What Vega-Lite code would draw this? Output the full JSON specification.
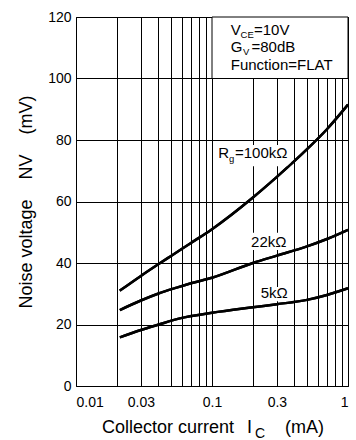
{
  "$schema": "https://vega.github.io/schema/vega-lite/v6.json",
  "width": 272,
  "height": 369,
  "autosize": "none",
  "padding": {"left": 76, "top": 17, "right": 8, "bottom": 54},
  "background": "white",
  "config": {
    "view": {"stroke": "#000", "strokeWidth": 1},
    "font": "Arial, Liberation Sans, sans-serif",
    "axis": {
      "domain": false,
      "ticks": false,
      "grid": true,
      "gridColor": "#000",
      "gridOpacity": 1,
      "gridWidth": 1,
      "labelFont": "Arial, Liberation Sans, sans-serif",
      "labelFontSize": 14,
      "labelColor": "#000",
      "labelOverlap": false,
      "titleFont": "Arial, Liberation Sans, sans-serif",
      "titleFontSize": 18,
      "titleFontWeight": "normal",
      "titleColor": "#000"
    }
  },
  "datasets": {
    "curves": [
      {"r": "100k", "x": 0.021, "y": 31},
      {"r": "100k", "x": 0.03, "y": 35.8},
      {"r": "100k", "x": 0.04, "y": 39.5},
      {"r": "100k", "x": 0.05, "y": 42.3},
      {"r": "100k", "x": 0.07, "y": 46.5},
      {"r": "100k", "x": 0.1, "y": 51},
      {"r": "100k", "x": 0.2, "y": 61.3},
      {"r": "100k", "x": 0.3, "y": 68},
      {"r": "100k", "x": 0.5, "y": 77},
      {"r": "100k", "x": 0.7, "y": 83.5},
      {"r": "100k", "x": 1.0, "y": 91.5},
      {"r": "22k", "x": 0.021, "y": 24.7},
      {"r": "22k", "x": 0.03, "y": 27.8},
      {"r": "22k", "x": 0.04, "y": 30},
      {"r": "22k", "x": 0.055, "y": 32},
      {"r": "22k", "x": 0.07, "y": 33.4},
      {"r": "22k", "x": 0.1, "y": 35.2},
      {"r": "22k", "x": 0.2, "y": 40},
      {"r": "22k", "x": 0.3, "y": 42.4},
      {"r": "22k", "x": 0.5, "y": 45.4},
      {"r": "22k", "x": 0.7, "y": 47.8},
      {"r": "22k", "x": 1.0, "y": 50.8},
      {"r": "5k", "x": 0.021, "y": 15.8},
      {"r": "5k", "x": 0.03, "y": 18.2},
      {"r": "5k", "x": 0.04, "y": 19.9},
      {"r": "5k", "x": 0.058, "y": 22},
      {"r": "5k", "x": 0.1, "y": 23.8},
      {"r": "5k", "x": 0.2, "y": 25.6},
      {"r": "5k", "x": 0.3, "y": 26.6},
      {"r": "5k", "x": 0.5, "y": 28},
      {"r": "5k", "x": 0.7, "y": 29.6},
      {"r": "5k", "x": 1.0, "y": 31.8}
    ],
    "boxes": [
      {"x": 0.107, "x2": 0.381, "y": 78.4, "y2": 71.5},
      {"x": 0.187, "x2": 0.368, "y": 49.8, "y2": 44.2},
      {"x": 0.2143, "x2": 0.381, "y": 32.2, "y2": 27.6}
    ],
    "legendbox": [
      {"x": 0.1, "x2": 1, "y": 100, "y2": 120}
    ],
    "texts": [
      {"t": "V", "x": 0.1373, "y": 114.1},
      {"t": "=10V", "x": 0.2035, "y": 114.1},
      {"t": "G", "x": 0.1373, "y": 108.7},
      {"t": "=80dB", "x": 0.1952, "y": 108.7},
      {"t": "Function=FLAT", "x": 0.1373, "y": 102.8},
      {"t": "R", "x": 0.1113, "y": 74.05},
      {"t": "=100kΩ", "x": 0.1476, "y": 74.05},
      {"t": "22kΩ", "x": 0.1937, "y": 45.3},
      {"t": "5kΩ", "x": 0.228, "y": 28.6}
    ],
    "subs": [
      {"t": "CE", "x": 0.1621, "y": 113.1},
      {"t": "V", "x": 0.169, "y": 107.6},
      {"t": "g", "x": 0.1334, "y": 72.8}
    ],
    "xtitle": [
      {"t": "Collector current", "x": 0.01552, "y": -15.3},
      {"t": "I", "x": 0.1809, "y": -15.3},
      {"t": "(mA)", "x": 0.344, "y": -15.3}
    ],
    "xsub": [
      {"t": "C", "x": 0.2071, "y": -17.0}
    ]
  },
  "layer": [
    {
      "data": {"name": "curves"},
      "mark": {"type": "line", "color": "#000", "strokeWidth": 2.5, "interpolate": "monotone"},
      "encoding": {
        "x": {
          "field": "x", "type": "quantitative",
          "scale": {"type": "log", "domain": [0.01, 1], "nice": false},
          "axis": {
            "title": null,
            "values": [0.01, 0.02, 0.03, 0.04, 0.05, 0.06, 0.07, 0.08, 0.09, 0.1, 0.2, 0.3, 0.4, 0.5, 0.6, 0.7, 0.8, 0.9, 1],
            "labelExpr": "indexof([0.01, 0.03, 0.1, 0.3, 1], datum.value) >= 0 ? format(datum.value, '~g') : ''",
            "labelPadding": 9
          }
        },
        "y": {
          "field": "y", "type": "quantitative",
          "scale": {"domain": [0, 120], "nice": false},
          "axis": {
            "title": "Noise voltage\u00a0\u00a0\u00a0\u00a0NV\u00a0\u00a0\u00a0\u00a0(mV)",
            "values": [0, 10, 20, 30, 40, 50, 60, 70, 80, 90, 100, 110, 120],
            "labelExpr": "datum.value % 20 == 0 ? datum.label : ''",
            "labelPadding": 5,
            "titlePadding": 12
          }
        },
        "detail": {"field": "r"}
      }
    },
    {
      "data": {"name": "boxes"},
      "mark": {"type": "rect", "fill": "white", "stroke": null},
      "encoding": {
        "x": {"field": "x", "type": "quantitative"},
        "x2": {"field": "x2"},
        "y": {"field": "y", "type": "quantitative"},
        "y2": {"field": "y2"}
      }
    },
    {
      "data": {"name": "legendbox"},
      "mark": {"type": "rect", "fill": "white", "stroke": "#000", "strokeWidth": 1},
      "encoding": {
        "x": {"field": "x", "type": "quantitative"},
        "x2": {"field": "x2"},
        "y": {"field": "y", "type": "quantitative"},
        "y2": {"field": "y2"}
      }
    },
    {
      "data": {"name": "curves"},
      "mark": {"type": "line", "color": "#000", "strokeWidth": 2.5, "interpolate": "monotone"},
      "encoding": {
        "x": {"field": "x", "type": "quantitative"},
        "y": {"field": "y", "type": "quantitative"},
        "detail": {"field": "r"}
      }
    },
    {
      "data": {"name": "texts"},
      "mark": {"type": "text", "align": "left", "baseline": "alphabetic", "fontSize": 15, "font": "Arial, Liberation Sans, sans-serif", "color": "#000"},
      "encoding": {
        "x": {"field": "x", "type": "quantitative"},
        "y": {"field": "y", "type": "quantitative"},
        "text": {"field": "t"}
      }
    },
    {
      "data": {"name": "subs"},
      "mark": {"type": "text", "align": "left", "baseline": "alphabetic", "fontSize": 9.5, "font": "Arial, Liberation Sans, sans-serif", "color": "#000"},
      "encoding": {
        "x": {"field": "x", "type": "quantitative"},
        "y": {"field": "y", "type": "quantitative"},
        "text": {"field": "t"}
      }
    },
    {
      "data": {"name": "xtitle"},
      "mark": {"type": "text", "align": "left", "baseline": "alphabetic", "fontSize": 18, "font": "Arial, Liberation Sans, sans-serif", "color": "#000", "clip": false},
      "encoding": {
        "x": {"field": "x", "type": "quantitative"},
        "y": {"field": "y", "type": "quantitative"},
        "text": {"field": "t"}
      }
    },
    {
      "data": {"name": "xsub"},
      "mark": {"type": "text", "align": "left", "baseline": "alphabetic", "fontSize": 14, "font": "Arial, Liberation Sans, sans-serif", "color": "#000", "clip": false},
      "encoding": {
        "x": {"field": "x", "type": "quantitative"},
        "y": {"field": "y", "type": "quantitative"},
        "text": {"field": "t"}
      }
    }
  ]
}
